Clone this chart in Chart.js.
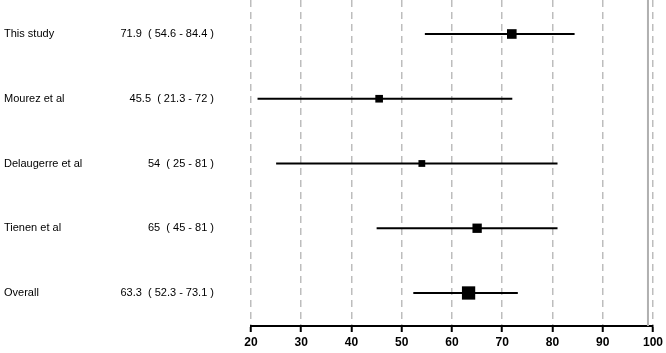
<!DOCTYPE html>
<html>
<head>
<meta charset="utf-8">
<script src="https://cdn.jsdelivr.net/npm/chart.js@4/dist/chart.umd.min.js"></script>
<style>
  html, body { margin: 0; padding: 0; background: #fff; }
  #wrap { width: 666px; height: 353px; }
</style>
</head>
<body>
<div id="wrap"><canvas id="forest"></canvas></div>
<script>
'use strict';

// study data
const studies = ["This study", "Mourez et al", "Delaugerre et al", "Tienen et al", "Overall"];
const estimates = [71.9, 45.5, 54, 65, 63.3];
const lower = [54.6, 21.3, 25, 45, 52.3];
const upper = [84.4, 72, 81, 81, 73.1];
const markerSize = [6.8, 5.4, 4.8, 6.6, 9.4];
const xTicks = [20, 30, 40, 50, 60, 70, 80, 90, 100];
const refLine = 99;

const fmt = function(v){ return String(v); };

let datasets = [];
studies.forEach(function(name, i){
  datasets.push({
    type: 'line',
    data: [{x: lower[i], y: i + 1}, {x: upper[i], y: i + 1}],
    borderColor: '#000',
    borderWidth: 2,
    pointRadius: 0,
    order: 2
  });
});
datasets.push({
  type: 'line',
  data: [{x: refLine, y: 0.4}, {x: refLine, y: 5.6}],
  borderColor: '#b0b0b0',
  borderWidth: 2,
  pointRadius: 0,
  order: 3
});
datasets.push({
  type: 'scatter',
  data: estimates.map(function(v, i){ return {x: v, y: i + 1}; }),
  pointStyle: 'rect',
  pointRadius: markerSize,
  backgroundColor: '#000',
  borderColor: '#000',
  borderWidth: 0,
  order: 1
});

// left-hand text columns
const labelColumns = {
  id: 'labelColumns',
  afterDraw: function(chart){
    const ctx = chart.ctx;
    const y = chart.scales.y;
    ctx.save();
    ctx.fillStyle = '#000';
    ctx.font = '11px "Liberation Sans", Arial, sans-serif';
    ctx.textBaseline = 'middle';
    studies.forEach(function(name, i){
      const py = y.getPixelForValue(i + 1);
      ctx.textAlign = 'left';
      ctx.fillText(name, 4, py);
      ctx.textAlign = 'right';
      ctx.fillText(fmt(estimates[i]) + '  ( ' + fmt(lower[i]) + ' - ' + fmt(upper[i]) + ' )', 214, py);
    });
    ctx.restore();
  }
};

new Chart(document.getElementById('forest'), {
  type: 'scatter',
  data: { datasets: datasets },
  plugins: [labelColumns],
  options: {
    responsive: true,
    maintainAspectRatio: false,
    animation: false,
    layout: { autoPadding: false, padding: { left: 251, right: 11, top: 0, bottom: 0 } },
    plugins: {
      legend: { display: false },
      tooltip: { enabled: false }
    },
    scales: {
      x: {
        type: 'linear',
        min: 20,
        max: 100,
        afterBuildTicks: function(scale){
          scale.ticks = xTicks.map(function(v){ return {value: v}; });
        },
        afterFit: function(scale){ scale.height = 27; },
        grid: {
          color: '#bdbdbd',
          lineWidth: 1.5,
          tickLength: 6,
          tickColor: '#000',
          tickWidth: 2
        },
        border: { display: true, color: '#000', width: 2, dash: [7, 5] },
        ticks: {
          color: '#000',
          padding: 3,
          maxRotation: 0,
          font: { family: '"Liberation Sans", Arial, sans-serif', size: 12, weight: 'bold' }
        }
      },
      y: {
        type: 'linear',
        min: 0.475,
        max: 5.51,
        reverse: true,
        display: false
      }
    }
  }
});
</script>
</body>
</html>
